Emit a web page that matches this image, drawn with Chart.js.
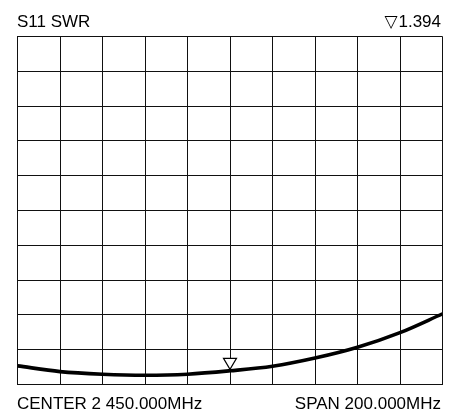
<!DOCTYPE html>
<html>
<head>
<meta charset="utf-8">
<script src="https://cdn.jsdelivr.net/npm/chart.js@4/dist/chart.umd.min.js"></script>
<style>
  html, body { margin: 0; padding: 0; background: #fff; }
  #wrap { position: relative; width: 456px; height: 409px; overflow: hidden; }
  canvas { position: absolute; left: 0; top: 0; }
  .lbl { position: absolute; font-family: "Liberation Sans", Arial, Helvetica, sans-serif; font-size: 17px; color: #000; white-space: nowrap; line-height: 1; }
  .tri { font-family: "DejaVu Sans", sans-serif; font-size: 17px; margin-right: 1px; }
</style>
</head>
<body>
<div id="wrap">
  <canvas id="c" width="456" height="409"></canvas>
  <div class="lbl" id="tl" style="left:17px; top:13px;">S11 SWR</div>
  <div class="lbl" id="tr" style="right:15px; top:13px;"><span class="tri">▽</span>1.394</div>
  <div class="lbl" id="bl" style="left:17px; top:395px;">CENTER 2 450.000MHz</div>
  <div class="lbl" id="br" style="right:15px; top:395px;">SPAN 200.000MHz</div>
</div>
<script>
// Frequencies (MHz) and SWR values
const freqs = [2350, 2370, 2390, 2410, 2430, 2450, 2470, 2490, 2510, 2530, 2550];
const swr   = [1.535, 1.371, 1.296, 1.267, 1.296, 1.394, 1.525, 1.76, 2.07, 2.49, 3.03];
const markerIndex = 5;
const markerValue = 1.394;
const xMin = 2350, xMax = 2550, xStep = 20;
const yMin = 1, yMax = 11, yStep = 1;

const markerPlugin = {
  id: 'marker',
  afterDatasetsDraw(chart) {
    const ctx = chart.ctx;
    const xs = chart.scales.x, ys = chart.scales.y;
    const px = xs.getPixelForValue(freqs[markerIndex]);
    const py = ys.getPixelForValue(markerValue);
    const tipY = py - 1.5, topY = py - 12.5, half = 6.5;
    ctx.save();
    ctx.beginPath();
    ctx.moveTo(px - half, topY);
    ctx.lineTo(px + half, topY);
    ctx.lineTo(px, tipY);
    ctx.closePath();
    ctx.fillStyle = '#fff';
    ctx.fill();
    ctx.lineWidth = 1.2;
    ctx.strokeStyle = '#000';
    ctx.stroke();
    ctx.restore();
  }
};

new Chart(document.getElementById('c'), {
  type: 'line',
  data: {
    datasets: [{
      data: freqs.map((f, i) => ({ x: f, y: swr[i] })),
      borderColor: '#000',
      borderWidth: 3.6,
      pointRadius: 0,
      cubicInterpolationMode: 'monotone',
      fill: false
    }]
  },
  options: {
    responsive: false,
    animation: false,
    devicePixelRatio: 1,
    layout: { padding: { left: 17.5, right: 13.5, top: 36.5, bottom: 24.5 } },
    plugins: { legend: { display: false }, tooltip: { enabled: false }, title: { display: false } },
    scales: {
      x: {
        type: 'linear', min: xMin, max: xMax,
        ticks: { display: false, stepSize: xStep },
        grid: { color: '#111', lineWidth: 1, drawTicks: false },
        border: { display: true, color: '#111', width: 1 }
      },
      y: {
        type: 'linear', min: yMin, max: yMax,
        ticks: { display: false, stepSize: yStep },
        grid: { color: '#111', lineWidth: 1, drawTicks: false },
        border: { display: true, color: '#111', width: 1 }
      }
    }
  },
  plugins: [markerPlugin]
});
</script>
</body>
</html>
